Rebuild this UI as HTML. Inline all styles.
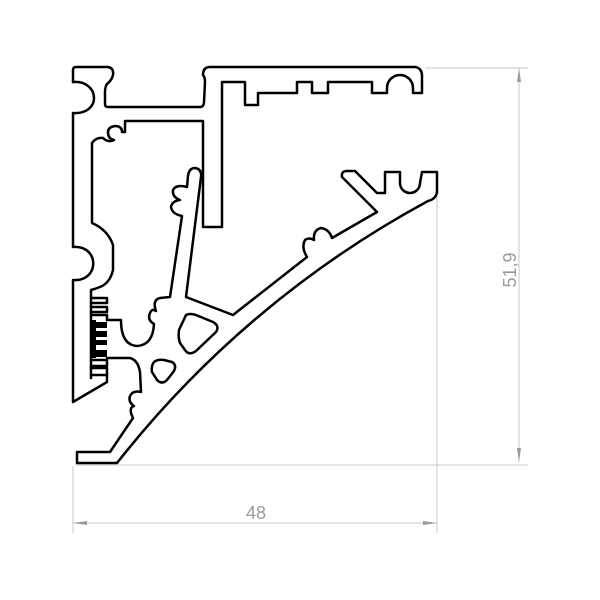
<!DOCTYPE html>
<html><head><meta charset="utf-8"><style>
html,body{margin:0;padding:0;background:#fff;}
svg{display:block;}
</style></head><body>
<svg width="600" height="600" viewBox="0 0 600 600" xmlns="http://www.w3.org/2000/svg">
<rect width="600" height="600" fill="#fff"/>
<g stroke="#c8c8c8" stroke-width="1" fill="none">
  <line x1="73" y1="466" x2="73" y2="533"/>
  <line x1="437" y1="175" x2="437" y2="533"/>
  <line x1="425" y1="68" x2="528" y2="68"/>
  <line x1="75" y1="465" x2="528" y2="465"/>
  <line x1="73" y1="523" x2="437" y2="523"/>
  <line x1="519" y1="68" x2="519" y2="462"/>
</g>
<g fill="#9a9a9a">
  <polygon points="73,523 87,521 87,525"/>
  <polygon points="437,523 423,521 423,525"/>
  <polygon points="519,68 517,82 521,82"/>
  <polygon points="519,462 517,448 521,448"/>
</g>
<text x="256" y="519" font-family="Liberation Sans, sans-serif" font-size="18" fill="#9a9a9a" text-anchor="middle">48</text>
<text x="0" y="0" transform="translate(516,270) rotate(-90)" font-family="Liberation Sans, sans-serif" font-size="18" fill="#9a9a9a" text-anchor="middle">51,9</text>

<g stroke="#000" stroke-width="2.5" fill="none" stroke-linejoin="round" stroke-linecap="round">
  <path d="M73,82 L73,70 Q73,67 76,67 L108,67 Q114,68 113,75 Q112,80 107,84 Q105,87 105,92 L105,104 Q105,107 108,107 L201,107 Q204,106 204,102 L205,82 Q205,77 203,75 Q203,67 210,67 L415,67 Q422,68 422,76 L422,93 L413,93 L413,88 A13,13 0 0 0 387,88 L387,93 L372,93 L372,82 L328,82 L328,93 L312,93 L312,82 L297,82 L297,93 L258,93 L258,105 L245,105 L245,82 L222,82 L222,227 L203,227 L203,121 L125,121 L125,132 L122,132 Q122,126 115,126 Q108,127 108,132 Q108,139 114,140 Q108,143 103,138 Q96,137 92,143 L92,223 Q108,230 113,245 L113,270 Q110,283 100,287 Q95,289 91,290 L91,378"/>
  <path d="M73,82 C100,80 102,115 73,113 L73,247 C100,245 100,282 73,280 L73,402 L107,382 L107,375"/>
  <path d="M91,298 L107,298 L107,303 L91,303 M91,307 L107,307 L107,312 L91,312 M91,315 L107,315 L107,320 M91,368 L107,368 L107,375 L91,375 M91,360 L107,360 L107,366 L91,366"/>
  <path d="M107,320 L121,320 Q121,345 137,346 Q153,345 154,324 Q147,320 150,313 Q152,308 156,311 Q152,300 160,298 L170,297 L182,216 Q172,214 171,207 Q172,201 180,200 Q172,197 173,190 Q176,184 187,187 L188,176 Q189,168 195,168 Q202,169 201,177 L186,297 L233,315 L307,257 Q301,247 305,240 Q309,237 314,240 Q313,230 321,228 Q329,229 332,238 L377,212 L342,177 Q341,171 347,171 L355,171 L377,193 L385,193 L385,172 L400,172 L400,183 A10,10 0 0 0 420,183 L422,172 L437,172 L437,192"/>
  <path d="M437,192 Q436,199 428,201 A1000,1000 0 0 0 117,463 L77,463 L77,452 L110,452 L133,418 Q128,408 134,406 Q128,402 130,396 Q133,390 141,392 L140,372 Q138,360 130,358 L107,358"/>
  <path d="M186,315 Q190,313 196,315 L213,322 Q220,326 216,332 L196,351 Q189,356 185,350 L180,343 Q178,338 179,330 Z"/>
  <path d="M154,362 Q158,359 164,360 L172,362 Q177,365 174,371 L167,380 Q162,385 157,380 L152,372 Q151,366 154,362 Z"/>
</g>
<g fill="#000">
  <rect x="91" y="322" width="16" height="6"/>
  <rect x="91" y="331" width="16" height="6"/>
  <rect x="91" y="340" width="16" height="5"/>
  <rect x="91" y="350" width="16" height="7"/>
  <rect x="91" y="320" width="5" height="38"/>
</g>
</svg>
</body></html>
